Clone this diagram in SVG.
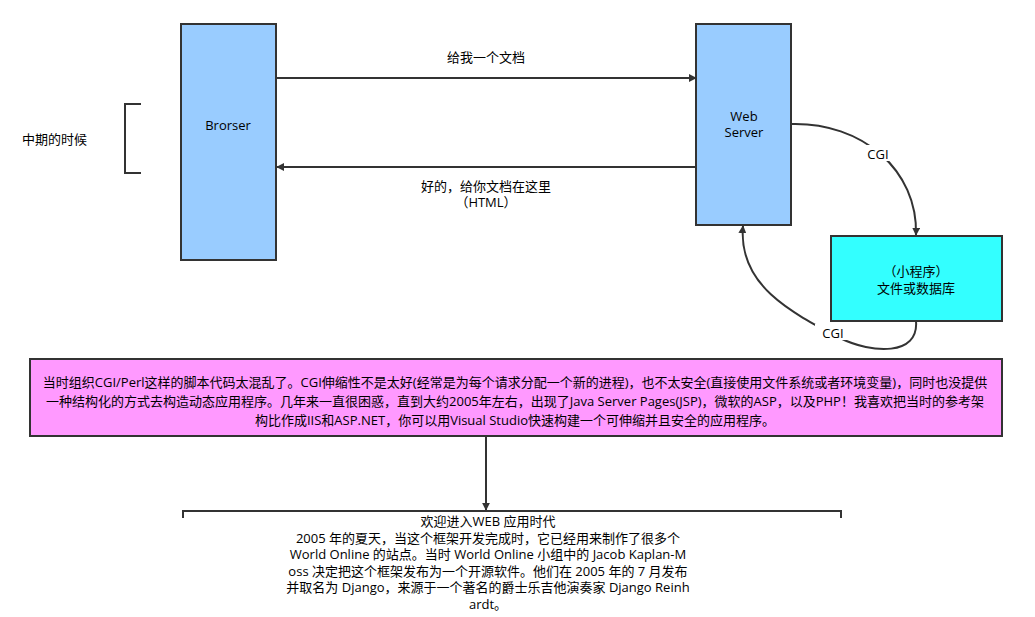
<svg xmlns="http://www.w3.org/2000/svg" width="1035" height="617" viewBox="0 0 1035 617">
<style>
text{font-family:"Open Sans","Noto Sans CJK SC",sans-serif;font-size:13px;fill:#000}
.m{text-anchor:middle}
.box{stroke:#333;stroke-width:2}
.ln{fill:none;stroke:#333;stroke-width:2}
</style>
<defs>
<marker id="ah" viewBox="0 0 10 10" refX="9" refY="5" markerWidth="8" markerHeight="8" markerUnits="userSpaceOnUse" orient="auto">
<path d="M0,0 L10,5 L0,10 z" fill="#333"/>
</marker>
</defs>
<rect width="1035" height="617" fill="#fff"/>
<g id="connectors">
<path class="ln" d="M276,78 L696,78" marker-end="url(#ah)"/>
<path class="ln" d="M697,167 L277,167" marker-end="url(#ah)"/>
<path class="ln" d="M791,124 C862,122 918,170 916,235" marker-end="url(#ah)"/>
<path class="ln" d="M916,321 C919,356 872,354 840,338 C790,312 738,285 743,226" marker-end="url(#ah)"/>
<path class="ln" d="M486,436 L486,510" marker-end="url(#ah)"/>
<rect x="860" y="145" width="38" height="16" fill="#fff"/>
<text class="m" x="878" y="159">CGI</text>
<rect x="815" y="324" width="36" height="16" fill="#fff"/>
<text class="m" x="833" y="338">CGI</text>
<text class="m" x="486" y="62">给我一个文档</text>
<text class="m" x="486" y="191">好的，给你文档在这里</text>
<text class="m" x="486" y="207">（HTML）</text>
</g>
<g id="bracket-left">
<path class="ln" d="M141,104 L125,104 L125,173 L141,173"/>
<text x="22" y="144">中期的时候</text>
</g>
<g id="browser">
<rect class="box" x="181" y="24" width="95" height="236" fill="#99CCFF"/>
<text class="m" x="228" y="130">Brorser</text>
</g>
<g id="webserver">
<rect class="box" x="696" y="24" width="95" height="201" fill="#99CCFF"/>
<text class="m" x="744" y="121">Web</text>
<text class="m" x="744" y="137">Server</text>
</g>
<g id="program">
<rect class="box" x="831" y="236" width="171" height="85" fill="#33FFFF"/>
<text class="m" x="916" y="276">（小程序）</text>
<text class="m" x="916" y="293">文件或数据库</text>
</g>
<g id="note">
<rect class="box" x="30" y="359" width="972" height="77" fill="#FF99FF"/>
<text class="m" x="515" y="387">当时组织CGI/Perl这样的脚本代码太混乱了。CGI伸缩性不是太好(经常是为每个请求分配一个新的进程)，也不太安全(直接使用文件系统或者环境变量)，同时也没提供</text>
<text class="m" x="515" y="406">一种结构化的方式去构造动态应用程序。几年来一直很困惑，直到大约2005年左右，出现了Java Server Pages(JSP)，微软的ASP，以及PHP！我喜欢把当时的参考架</text>
<text class="m" x="515" y="425">构比作成IIS和ASP.NET，你可以用Visual Studio快速构建一个可伸缩并且安全的应用程序。</text>
</g>
<g id="django">
<path class="ln" d="M183,518 L183,511 L841,511 L841,518"/>
<text class="m" x="488" y="526">欢迎进入WEB 应用时代</text>
<text class="m" x="488" y="543">2005 年的夏天，当这个框架开发完成时，它已经用来制作了很多个</text>
<text class="m" x="488" y="559">World Online 的站点。当时 World Online 小组中的 Jacob Kaplan-M</text>
<text class="m" x="488" y="576">oss 决定把这个框架发布为一个开源软件。他们在 2005 年的 7 月发布</text>
<text class="m" x="488" y="592">并取名为 Django，来源于一个著名的爵士乐吉他演奏家 Django Reinh</text>
<text class="m" x="488" y="609">ardt。</text>
</g>
</svg>
